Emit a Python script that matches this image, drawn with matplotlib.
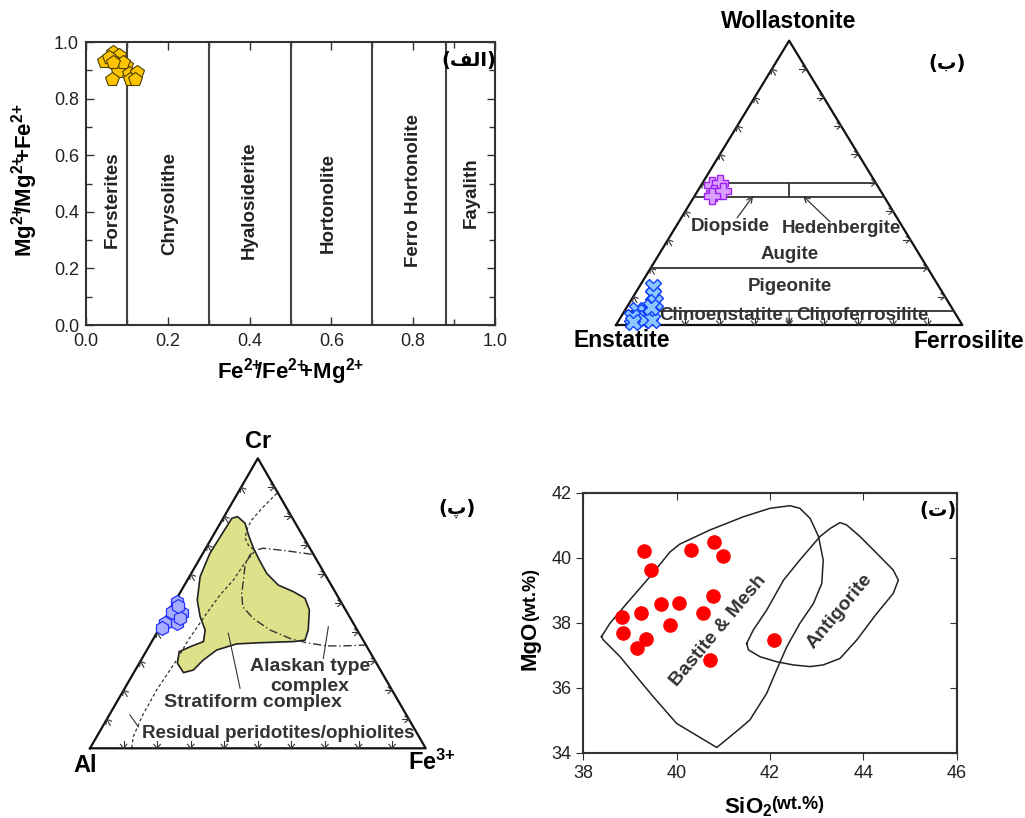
import numpy as np
import matplotlib
matplotlib.use("Agg")
import matplotlib.pyplot as plt

plt.rcParams['font.family'] = ['Liberation Sans', 'DejaVu Sans']
plt.rcParams['mathtext.fontset'] = 'custom'
plt.rcParams['mathtext.rm'] = 'Liberation Sans'
plt.rcParams['mathtext.bf'] = 'Liberation Sans:bold'
plt.rcParams['mathtext.it'] = 'Liberation Sans:italic'

# ---- (alef) olivine classification ----
ol_x = [0.044, 0.067, 0.081, 0.077, 0.098, 0.079, 0.063, 0.106, 0.125, 0.108, 0.091, 0.057, 0.067, 0.120]
ol_y = [0.934, 0.966, 0.954, 0.927, 0.919, 0.899, 0.868, 0.892, 0.895, 0.868, 0.930, 0.948, 0.930, 0.868]
ol_bounds = [0.1, 0.3, 0.5, 0.7, 0.88]
ol_names = ["Forsterites", "Chrysolithe", "Hyalosiderite", "Hortonolite", "Ferro Hortonolite", "Fayalith"]
ol_name_x = [0.063, 0.205, 0.40, 0.592, 0.80, 0.941]
ol_name_y = [0.443, 0.43, 0.442, 0.43, 0.474, 0.468]

# ---- (be) pyroxene En-Wo-Fs ----
px_wo_levels = [50, 45, 20, 5]
cpx_wo = [49.3, 50.1, 46.4, 47.2, 45.2]
cpx_fs = [3.0, 5.0, 5.1, 7.2, 5.1]
opx_wo = [13.5, 10.6, 8.2, 5.3, 4.7, 2.4, 3.5, 1.8, 2.9, 1.8, 1.2, 6.5]
opx_fs = [4.0, 5.3, 7.2, 3.5, 6.0, 4.8, 8.1, 7.0, 3.1, 9.4, 4.4, 6.8]

# ---- (pe) spinel Cr-Al-Fe3+ ----
sp_cr = [50.6, 47.7, 46.6, 47.1, 43.1, 43.1, 41.4, 44.8, 49.1]
sp_fe = [0.5, 1.5, 4.0, 0.8, 4.3, 0.8, 0.7, 4.4, 1.7]
strat_cr = [79.9, 77.6, 73.6, 69.0, 64.9, 60.3, 56.3, 54.0, 51.7, 47.7, 40.8, 37.3, 36.8, 36.4, 36.0,
            33.9, 30.4, 27.0, 26.1, 29.3, 33.3, 35.0, 36.8, 40.8, 45.4, 51.1, 59.2, 67.2, 74.7, 79.3]
strat_fe = [4.0, 7.4, 10.4, 14.2, 18.0, 22.5, 27.9, 33.6, 38.2, 41.5, 44.6, 45.4, 42.2, 32.4, 25.7,
            20.8, 18.5, 17.3, 14.8, 11.4, 9.9, 12.3, 15.4, 13.9, 10.1, 6.4, 3.2, 2.1, 2.4, 2.6]
resid_cr = [87.9, 83.3, 78.7, 75.3, 72.4, 70.1, 68.1, 63.2, 58.0, 52.9, 46.6, 37.3, 30.4, 20.1, 10.9, 4.0, 0.0]
resid_fe = [11.7, 10.0, 8.8, 9.0, 10.0, 12.1, 15.1, 14.1, 13.7, 12.3, 11.5, 10.6, 10.6, 9.8, 10.0, 10.9, 12.4]
alask_cr = [66.9, 68.1, 69.0, 68.4, 66.7, 63.2, 58.0, 53.4, 48.8, 44.8, 40.8, 37.9, 36.4, 35.3, 35.3, 35.6]
alask_fe = [32.6, 24.5, 17.1, 15.5, 14.3, 14.6, 16.7, 18.5, 21.1, 26.2, 33.2, 40.6, 46.3, 52.9, 57.8, 64.1]

# ---- (te) serpentine MgO vs SiO2 ----
serp_si = [39.29, 39.45, 38.82, 38.86, 39.24, 39.66, 40.06, 39.86, 39.34, 39.14,
           40.31, 40.79, 40.99, 40.77, 40.57, 40.72, 42.09]
serp_mg = [40.21, 39.62, 38.18, 37.69, 38.29, 38.57, 38.60, 37.92, 37.49, 37.21,
           40.23, 40.47, 40.06, 38.82, 38.29, 36.85, 37.46]
bast_si = [38.39, 38.57, 38.93, 39.43, 39.86, 40.07, 40.71, 41.43, 42.00, 42.43, 42.64, 42.86, 43.04,
           43.14, 43.11, 42.93, 42.64, 42.36, 42.14, 41.93, 41.57, 41.36, 41.14, 40.86, 40.36, 40.00,
           39.50, 39.14, 38.79, 38.43]
bast_mg = [37.57, 37.98, 38.59, 39.42, 40.18, 40.42, 40.85, 41.26, 41.52, 41.60, 41.52, 41.21, 40.65,
           39.93, 39.21, 38.59, 37.98, 37.26, 36.54, 35.83, 35.01, 34.75, 34.49, 34.16, 34.59, 34.90,
           35.72, 36.34, 36.95, 37.47]
ant_si = [41.50, 41.64, 41.93, 42.29, 42.64, 43.07, 43.29, 43.50, 43.64, 43.93, 44.29, 44.64, 44.75,
          44.64, 44.29, 43.86, 43.50, 43.14, 42.86, 42.50, 42.14, 41.79, 41.54]
ant_mg = [37.36, 37.77, 38.39, 39.31, 39.93, 40.65, 40.90, 41.08, 41.01, 40.65, 40.13, 39.62, 39.31,
          38.90, 38.29, 37.47, 36.90, 36.70, 36.65, 36.70, 36.80, 36.95, 37.16]

W, H = 1025, 818
fig = plt.figure(figsize=(10.25, 8.18), dpi=100)


def px_axes(l, t, r, b):
    return fig.add_axes([l / W, 1 - b / H, (r - l) / W, (b - t) / H])


def tern(left, top, right):
    left, top, right = (np.asarray(v, float) for v in (left, top, right))
    s = left + top + right
    return (right + top / 2) / s, top / s


def close(a):
    return list(a) + [a[0]]


def edge_arrows(ax, stem=7, head=4):
    T = ax.transData
    inv = T.inverted()
    pL, pR, pT = (np.array(T.transform(p)) for p in [(0, 0), (1, 0), (0.5, 1)])
    up_left = (pT - pR) / np.hypot(*(pT - pR))
    for a, b, d in [(pL, pR, np.array([0., -1.])), (pR, pT, np.array([1., 0.])), (pT, pL, up_left)]:
        nrm = np.array([-d[1], d[0]])
        for t in np.arange(1, 10) / 10:
            tip = a + t * (b - a)
            chev = np.array([tip - d * head + nrm * head * 0.8, tip, tip - d * head - nrm * head * 0.8])
            st = np.array([tip - d * stem, tip])
            for seg in (chev, st):
                xy = inv.transform(seg)
                ax.plot(xy[:, 0], xy[:, 1], color='#333', lw=0.8, clip_on=False)


def tern_frame(ax):
    ax.set_xlim(0, 1)
    ax.set_ylim(0, 1)
    ax.axis('off')
    ax.plot([0, 1, 0.5, 0], [0, 0, 1, 0], color='#111', lw=1.6, clip_on=False)
    edge_arrows(ax)


# ================= (alef) =================
axA = px_axes(86, 42, 495, 325)
axA.set_xlim(0, 1)
axA.set_ylim(0, 1)
for xb in ol_bounds:
    axA.axvline(xb, color='#444', lw=1.5)
axA.plot(ol_x, ol_y, 'p', ms=10.5, mfc='#FFC400', mec='#4d4000', mew=0.8, clip_on=False, zorder=5)
for name, x, y in zip(ol_names, ol_name_x, ol_name_y):
    axA.text(x, y, name, rotation=90, ha='center', va='center', fontsize=13.5, fontweight='bold', color='#222')
axA.set_xticks(np.arange(0, 1.01, 0.2))
axA.set_yticks(np.arange(0, 1.01, 0.2))
axA.set_xticks(np.arange(0, 1.01, 0.1), minor=True)
axA.set_yticks(np.arange(0, 1.01, 0.1), minor=True)
axA.xaxis.set_major_formatter(matplotlib.ticker.FormatStrFormatter('%.1f'))
axA.yaxis.set_major_formatter(matplotlib.ticker.FormatStrFormatter('%.1f'))
axA.tick_params(which='both', direction='in', top=True, right=True, labelsize=13, width=1, colors='#333')
axA.tick_params(which='major', length=6)
axA.tick_params(which='minor', length=4)
axA.tick_params(axis='both', labelcolor='#222')
axA.tick_params(axis='x', pad=6)
axA.tick_params(axis='y', pad=5)
for sp in axA.spines.values():
    sp.set_linewidth(1.5)
    sp.set_color('#333')
axA.text(-0.15, 0.51, r'$\mathbf{Mg^{2{+}}\!\!/Mg^{2{+}}\!\!{+}Fe^{2{+}}}$', rotation=90, ha='center',
         va='center', fontsize=16, transform=axA.transAxes)
axA.text(0.5, -0.165, r'$\mathbf{Fe^{2{+}}\!\!/Fe^{2{+}}\!\!{+}Mg^{2{+}}}$', ha='center', va='center',
         fontsize=16, transform=axA.transAxes)
axA.text(0.935, 0.936, '(' + '\uFED2\uFEDF\uFE8D' + ')', ha='center', va='center', fontsize=14,
         fontweight='bold', family=['DejaVu Sans'])

# ================= (be) =================
axB = px_axes(616, 40.7, 962.3, 325)
tern_frame(axB)
for w in px_wo_levels:
    x, y = tern([100 - w, 0], [w, w], [0, 100 - w])
    axB.plot(x, y, color='#333', lw=1.3)
x, y = tern([27.5, 25], [45, 50], [27.5, 25])
axB.plot(x, y, color='#333', lw=1.3)
x, y = tern([47.5, 50], [5, 0], [47.5, 50])
axB.annotate('', xy=(x[1], y[1]), xytext=(x[0], y[0]),
             arrowprops=dict(arrowstyle='->', color='#333', lw=0.9, shrinkA=0, shrinkB=0))
axB.annotate('', xy=(0.396, 0.454), xytext=(0.350, 0.377),
             arrowprops=dict(arrowstyle='->', color='#333', lw=0.9, shrinkA=0, shrinkB=0))
axB.annotate('', xy=(0.540, 0.454), xytext=(0.618, 0.363),
             arrowprops=dict(arrowstyle='->', color='#333', lw=0.9, shrinkA=0, shrinkB=0))
en = 100 - np.array(cpx_wo) - np.array(cpx_fs)
x, y = tern(en, cpx_wo, cpx_fs)
axB.plot(x, y, 'P', ms=11, mfc='#D9A0FF', mec='#A020F0', mew=1.0, clip_on=False, zorder=5)
en = 100 - np.array(opx_wo) - np.array(opx_fs)
x, y = tern(en, opx_wo, opx_fs)
axB.plot(x, y, 'X', ms=11, mfc='#8CC8FF', mec='#1040FF', mew=1.0, clip_on=False, zorder=5)
for txt, x, y in [("Diopside", 0.329, 0.346), ("Hedenbergite", 0.652, 0.340), ("Augite", 0.5, 0.249),
                  ("Pigeonite", 0.502, 0.135), ("Clinoenstatite", 0.303, 0.032),
                  ("Clinoferrosilite", 0.711, 0.032)]:
    axB.text(x, y, txt, ha='center', va='center', fontsize=13.5, fontweight='bold', color='#333')
axB.text(0.5, 1.066, "Wollastonite", ha='center', va='center', fontsize=16.5, fontweight='bold', clip_on=False)
axB.text(0.017, -0.055, "Enstatite", ha='center', va='center', fontsize=16.5, fontweight='bold', clip_on=False)
axB.text(1.019, -0.059, "Ferrosilite", ha='center', va='center', fontsize=16.5, fontweight='bold', clip_on=False)
axB.text(0.955, 0.92, '(\u0628)', ha='center', va='center', fontsize=14, fontweight='bold',
         family=['DejaVu Sans'], clip_on=False)

# ================= (pe) =================
axC = px_axes(90, 458.3, 425.7, 748.3)
axC.set_xlim(0, 1)
axC.set_ylim(0, 1)
al = 100 - np.array(strat_cr) - np.array(strat_fe)
x, y = tern(al, strat_cr, strat_fe)
axC.fill(x, y, facecolor='#DDE18A', edgecolor='#222', lw=1.2, zorder=1)
al = 100 - np.array(resid_cr) - np.array(resid_fe)
x, y = tern(al, resid_cr, resid_fe)
axC.plot(x, y, color='#333', lw=0.9, ls=(0, (2.5, 2)), zorder=2)
al = 100 - np.array(alask_cr) - np.array(alask_fe)
x, y = tern(al, alask_cr, alask_fe)
axC.plot(x, y, color='#333', lw=1.0, ls=(0, (6, 2, 1, 2)), zorder=2)
tern_frame(axC)
al = 100 - np.array(sp_cr) - np.array(sp_fe)
x, y = tern(al, sp_cr, sp_fe)
axC.plot(x, y, 'h', ms=10, mfc='#A8AEFF', mec='#2830FF', mew=0.9, clip_on=False, zorder=5)
for (x0, y0), (x1, y1) in [((0.695, 0.310), (0.710, 0.419)), ((0.447, 0.207), (0.412, 0.397)),
                           ((0.144, 0.074), (0.119, 0.115))]:
    axC.plot([x0, x1], [y0, y1], color='#333', lw=0.8)
for txt, x, y, fs in [("Alaskan type", 0.655, 0.281, 14), ("complex", 0.655, 0.212, 14),
                      ("Stratiform complex", 0.486, 0.157, 14),
                      ("Residual peridotites/ophiolites", 0.561, 0.052, 13.5)]:
    axC.text(x, y, txt, ha='center', va='center', fontsize=fs, fontweight='bold', color='#333')
axC.text(0.5, 1.057, "Cr", ha='center', va='center', fontsize=17, fontweight='bold', clip_on=False)
axC.text(-0.015, -0.058, "Al", ha='center', va='center', fontsize=17, fontweight='bold', clip_on=False)
axC.text(1.02, -0.05, r'$\mathbf{Fe^{3{+}}}$', ha='center', va='center', fontsize=17, clip_on=False)
axC.text(1.092, 0.828, '(\u067E)', ha='center', va='center', fontsize=14, fontweight='bold',
         family=['DejaVu Sans'], clip_on=False)

# ================= (te) =================
axD = px_axes(583.3, 492.7, 956.7, 752.7)
axD.plot(close(bast_si), close(bast_mg), color='#222', lw=1.1)
axD.plot(close(ant_si), close(ant_mg), color='#222', lw=1.1)
axD.plot(serp_si, serp_mg, 'o', ms=9.5, mfc='#FF0000', mec='#FF0000', zorder=5)
axD.set_xlim(38, 46)
axD.set_ylim(34, 42)
axD.set_xticks([38, 40, 42, 44, 46])
axD.set_yticks([34, 36, 38, 40, 42])
axD.tick_params(direction='out', length=5, labelsize=13, colors='#333', labelcolor='#222')
secx = axD.secondary_xaxis('top')
secx.set_xticks([38, 40, 42, 44, 46])
secx.tick_params(direction='in', length=5, labeltop=False, colors='#333')
secy = axD.secondary_yaxis('right')
secy.set_yticks([34, 36, 38, 40, 42])
secy.tick_params(direction='in', length=5, labelright=False, colors='#333')
for a in (axD, secx, secy):
    for sp in a.spines.values():
        sp.set_linewidth(1.5)
        sp.set_color('#333')
axD.text(40.89, 37.75, "Bastite & Mesh", rotation=50, ha='center', va='center', fontsize=14,
         fontweight='bold', color='#333')
axD.text(43.5, 38.34, "Antigorite", rotation=50, ha='center', va='center', fontsize=14,
         fontweight='bold', color='#333')
axD.text(0.95, 0.93, '(\u062A)', ha='center', va='center', fontsize=14, fontweight='bold',
         family=['DejaVu Sans'], transform=axD.transAxes)
axD.text(-0.143, 0.411, "MgO", rotation=90, ha='center', va='center', fontsize=16, fontweight='bold',
         transform=axD.transAxes)
axD.text(-0.14, 0.607, "(wt.%)", rotation=90, ha='center', va='center', fontsize=13, fontweight='bold',
         transform=axD.transAxes)
axD.text(0.441, -0.21, r'$\mathbf{SiO_2}$', ha='center', va='center', fontsize=16, transform=axD.transAxes)
axD.text(0.575, -0.20, "(wt.%)", ha='center', va='center', fontsize=13, fontweight='bold',
         transform=axD.transAxes)

fig.savefig("out.png", dpi=100)
